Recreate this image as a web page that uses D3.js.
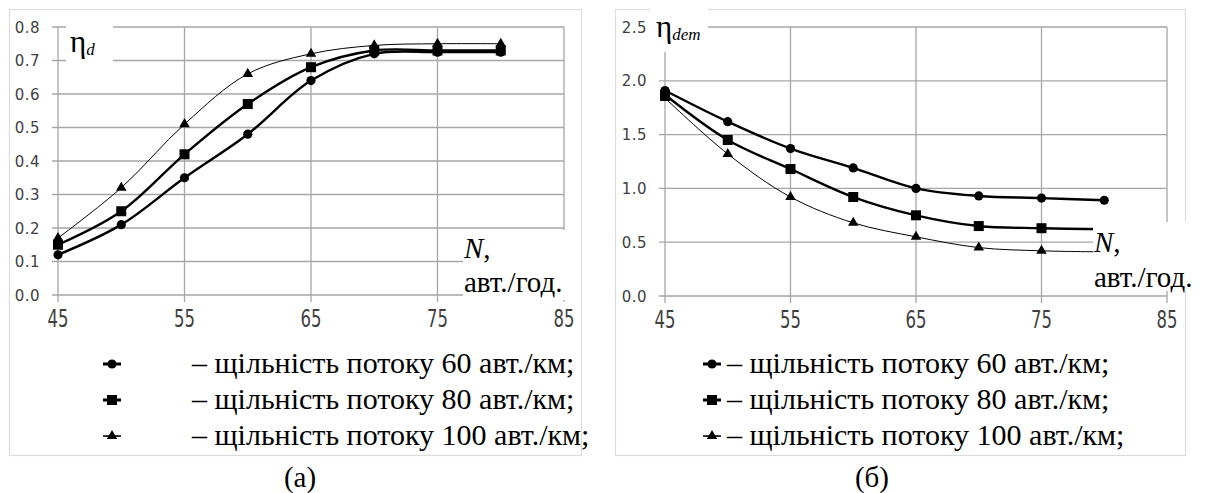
<!DOCTYPE html>
<html lang="uk">
<head>
    <meta charset="UTF-8">
    <title>η_d та η_dem залежно від N</title>
    <script src="https://d3js.org/d3.v7.min.js"></script>
    <style>
        body { margin: 0; background: #ffffff; }
        svg { display: block; }
        .tick-y { font-family: 'DejaVu Sans', sans-serif; font-size: 15px; fill: #404040; letter-spacing: 0.5px; }
        .tick-x { font-family: 'DejaVu Sans', sans-serif; font-size: 15px; fill: #404040; }
    </style>
</head>
<body>
<svg id="chart" width="1205" height="493"></svg>
<script>
    // --- дані, зчитані з графіків ---
    const nValues = [45, 50, 55, 60, 65, 70, 75, 80];

    // (а) η_d
    const etaD60  = [0.12, 0.21, 0.35, 0.48, 0.64, 0.72, 0.725, 0.725];
    const etaD80  = [0.15, 0.25, 0.42, 0.57, 0.68, 0.73, 0.73, 0.73];
    const etaD100 = [0.17, 0.32, 0.51, 0.66, 0.72, 0.745, 0.75, 0.75];

    // (б) η_dem
    const etaDem60  = [1.91, 1.62, 1.37, 1.19, 1.00, 0.93, 0.91, 0.89];
    const etaDem80  = [1.87, 1.45, 1.18, 0.92, 0.75, 0.65, 0.63, 0.62];
    const etaDem100 = [1.84, 1.32, 0.92, 0.68, 0.55, 0.45, 0.42, 0.41];

    const xTicks = [45, 55, 65, 75, 85];
    const yTicksA = [0, 0.1, 0.2, 0.3, 0.4, 0.5, 0.6, 0.7, 0.8];
    const yTicksB = [0, 0.5, 1.0, 1.5, 2.0, 2.5];

    const legendLabels = [
        "– щільність потоку 60 авт./км;",
        "– щільність потоку 80 авт./км;",
        "– щільність потоку 100 авт./км;"
    ];
    const markerTypes = ["circle", "square", "triangle"];
    const lineWidths = [2.4, 2.4, 1];

    const SERIF = "'Times New Roman', Times, 'Liberation Serif', Tinos, 'Noto Serif', 'DejaVu Serif', FreeSerif, serif";
    const svg = d3.select("#chart");
    const gridColor = "#a6a6a6";

    function drawMarker(g, type, x, y) {
        if (type === "circle") {
            g.append("circle").attr("cx", x).attr("cy", y).attr("r", 4.6).attr("fill", "#000");
        } else if (type === "square") {
            g.append("rect").attr("x", x - 5).attr("y", y - 5).attr("width", 10).attr("height", 10).attr("fill", "#000");
        } else {
            g.append("path").attr("transform", `translate(${x},${y})`)
                .attr("d", d3.symbol(d3.symbolTriangle, 48)()).attr("fill", "#000");
        }
    }

    function serifText(parent, size) {
        return parent.append("text").style("font-family", SERIF).attr("font-size", size).attr("fill", "#000");
    }

    function drawPanel(cfg) {
        const g = svg.append("g");

        // рамка діаграми
        g.append("rect").attr("x", cfg.frame[0] + 0.5).attr("y", cfg.frame[1] + 0.5)
            .attr("width", cfg.frame[2]).attr("height", cfg.frame[3])
            .attr("fill", "#fff").attr("stroke", "#dcdcdc").attr("stroke-width", 1.2);

        const x = d3.scaleLinear().domain([45, 85]).range(cfg.xRange);
        const y = d3.scaleLinear().domain(cfg.yDomain).range(cfg.yRange);

        // сітка
        g.append("g").selectAll("line").data(cfg.yTicks).join("line")
            .attr("x1", cfg.xRange[0] - 6).attr("x2", cfg.xRange[1])
            .attr("y1", d => y(d)).attr("y2", d => y(d))
            .attr("stroke", gridColor).attr("stroke-width", 1.3);
        g.append("g").selectAll("line").data(xTicks).join("line")
            .attr("x1", d => x(d)).attr("x2", d => x(d))
            .attr("y1", cfg.yRange[1]).attr("y2", cfg.yRange[0] + 7)
            .attr("stroke", gridColor).attr("stroke-width", 1.3);

        // підписи осей
        g.append("g").selectAll("text").data(cfg.yTicks).join("text")
            .attr("class", "tick-y")
            .attr("x", cfg.xRange[0] - 18).attr("y", d => y(d) + 5.5)
            .attr("text-anchor", "end")
            .text(d => d.toFixed(1));
        g.append("g").selectAll("text").data(xTicks).join("text")
            .attr("class", "tick-x")
            .attr("text-anchor", "middle")
            .attr("transform", d => `translate(${x(d)},${cfg.yRange[0] + 32}) scale(1.1,1.6)`)
            .text(d => d);

        // криві
        const line = d3.line().x((d, i) => x(nValues[i])).y(d => y(d))
            .curve(d3.curveCatmullRom.alpha(0.5));
        cfg.series.forEach((s, k) => {
            g.append("path").attr("d", line(s)).attr("fill", "none")
                .attr("stroke", "#000").attr("stroke-width", lineWidths[k]);
            const mg = g.append("g");
            s.forEach((v, i) => drawMarker(mg, markerTypes[k], x(nValues[i]), y(v)));
        });

        // підпис η
        g.append("rect").attr("x", cfg.etaBox[0]).attr("y", cfg.etaBox[1])
            .attr("width", cfg.etaBox[2]).attr("height", cfg.etaBox[3]).attr("fill", "#fff");
        const eta = serifText(g, 31).attr("x", cfg.etaPos[0]).attr("y", cfg.etaPos[1]);
        eta.append("tspan").text("η");
        eta.append("tspan").attr("font-style", "italic").attr("font-size", 17).attr("dy", 3).text(cfg.etaSub);

        // підпис N
        g.append("rect").attr("x", cfg.nBox[0]).attr("y", cfg.nBox[1])
            .attr("width", cfg.nBox[2]).attr("height", cfg.nBox[3]).attr("fill", "#fff");
        const nt = serifText(g, 29).attr("x", cfg.nPos[0]).attr("y", cfg.nPos[1]);
        nt.append("tspan").attr("font-style", "italic").text("N");
        nt.append("tspan").text(",");
        serifText(g, 29).attr("x", cfg.nPos[0]).attr("y", cfg.nPos[2]).text("авт./год.");

        // легенда
        const legendY = [364, 400, 436];
        legendLabels.forEach((lab, k) => {
            const lg = g.append("g");
            lg.append("line").attr("x1", cfg.legendX - 9).attr("x2", cfg.legendX + 9)
                .attr("y1", legendY[k]).attr("y2", legendY[k])
                .attr("stroke", "#000").attr("stroke-width", lineWidths[k] + 0.6);
            drawMarker(lg, markerTypes[k], cfg.legendX, legendY[k]);
            serifText(lg, 30).attr("x", cfg.legendTextX).attr("y", legendY[k] + 9).text(lab);
        });

        // підпис рисунка
        serifText(svg, 29).attr("x", cfg.captionX).attr("y", 487).attr("text-anchor", "middle")
            .text(cfg.caption);
    }

    drawPanel({
        frame: [9, 9, 572, 446],
        xRange: [58, 564], yRange: [295, 27], yDomain: [0, 0.8], yTicks: yTicksA,
        series: [etaD60, etaD80, etaD100],
        etaBox: [66, 16, 47, 54], etaPos: [70, 52], etaSub: "d",
        nBox: [463, 230, 115, 70], nPos: [464, 258, 292],
        legendX: 112, legendTextX: 192,
        caption: "(а)", captionX: 300
    });

    drawPanel({
        frame: [615, 9, 570, 446],
        xRange: [665, 1167], yRange: [296, 27], yDomain: [0, 2.5], yTicks: yTicksB,
        series: [etaDem60, etaDem80, etaDem100],
        etaBox: [650, 2, 58, 50], etaPos: [656, 37], etaSub: "dem",
        nBox: [1093, 222, 112, 69], nPos: [1094, 252, 287],
        legendX: 712, legendTextX: 727,
        caption: "(б)", captionX: 872
    });
</script>
</body>
</html>
